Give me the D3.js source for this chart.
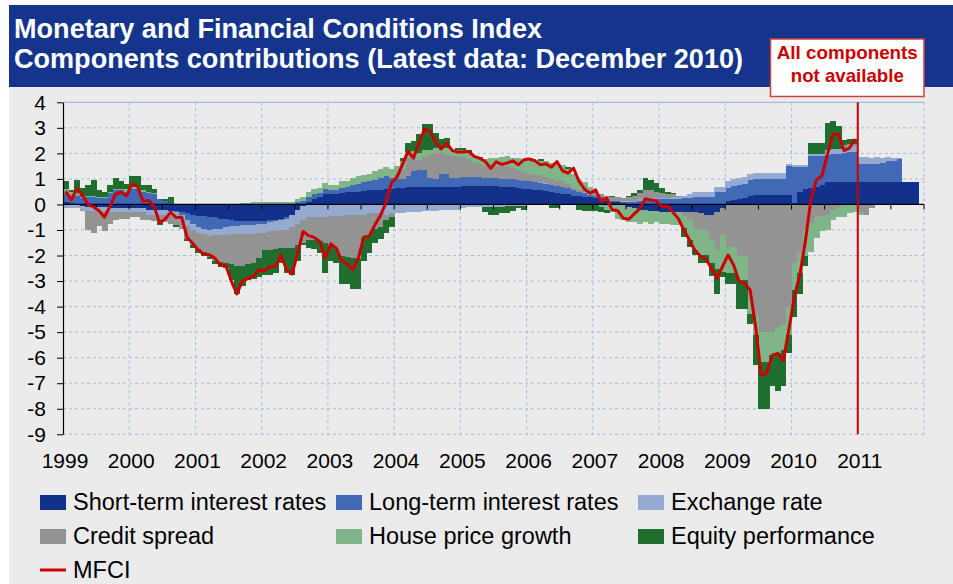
<!DOCTYPE html>
<html><head><meta charset="utf-8">
<script src="https://cdn.jsdelivr.net/npm/d3@7"></script>
<style>
body{margin:0;background:#fff}
svg{display:block}
text{font-family:"Liberation Sans",Arial,Helvetica,sans-serif}
</style>
</head><body>
<svg id="chart" width="953" height="584"></svg>
<script>
// ---------- DATA ----------
const titleLines = ["Monetary and Financial Conditions Index",
                    "Components contributions (Latest data: December 2010)"];
const noteLines = ["All components", "not available"];
const yearLabels = ["1999","2000","2001","2002","2003","2004","2005","2006","2007","2008","2009","2010","2011"];
const yTicks = [4,3,2,1,0,-1,-2,-3,-4,-5,-6,-7,-8,-9];
const seriesKeys = ["st","lt","fx","cs","hp","eq"];
const seriesNames = ["Short-term interest rates","Long-term interest rates","Exchange rate",
                     "Credit spread","House price growth","Equity performance"];
const seriesColors = ["#12318a","#4169b5","#94aad0","#939393","#80b58a","#1f6e2f"];
const lineName = "MFCI";

// monthly values, Jan 1999 .. Dec 2011
const shortTerm = [
 0.1,0.05,0.0,-0.05,-0.1,-0.1,-0.1,-0.1,-0.15,-0.15,-0.15,-0.15,
 -0.15,-0.15,-0.15,-0.2,-0.2,-0.2,-0.2,-0.25,-0.25,-0.3,-0.35,-0.4,
 -0.45,-0.45,-0.5,-0.5,-0.55,-0.55,-0.6,-0.65,-0.65,-0.65,-0.65,-0.65,
 -0.65,-0.6,-0.6,-0.55,-0.5,-0.4,-0.2,-0.05,0.1,0.2,0.3,0.4,
 0.4,0.42,0.45,0.48,0.5,0.5,0.52,0.55,0.55,0.57,0.6,0.6,
 0.65,0.65,0.7,0.7,0.7,0.7,0.7,0.7,0.7,0.7,0.7,0.7,
 0.72,0.72,0.72,0.72,0.72,0.72,0.72,0.7,0.7,0.68,0.65,0.62,
 0.6,0.57,0.55,0.52,0.48,0.45,0.42,0.4,0.35,0.32,0.3,0.28,
 0.25,0.2,0.15,0.1,0.1,0.05,-0.1,-0.15,-0.2,-0.2,-0.25,-0.25,
 -0.3,-0.3,-0.3,-0.3,-0.3,-0.3,-0.3,-0.35,-0.4,-0.4,-0.3,-0.15,
 0.15,0.18,0.2,0.25,0.35,0.38,0.38,0.38,0.38,0.38,0.38,0.37,
 0.05,0.5,0.6,0.65,0.7,0.77,0.87,0.87,0.87,0.87,0.87,0.87,
 0.87,0.87,0.87,0.87,0.87,0.87,0.87,0.87,0.87,0.87,0.87,null];
const longTerm = [
 0.3,0.3,0.35,0.25,0.3,0.3,0.25,0.25,0.45,0.55,0.55,0.5,
 0.6,0.6,0.5,0.45,0.4,0.2,0.15,0.05,-0.05,-0.1,-0.25,-0.35,
 -0.45,-0.5,-0.5,-0.45,-0.4,-0.35,-0.25,-0.2,-0.15,-0.15,-0.15,-0.1,
 -0.1,-0.1,-0.05,-0.05,-0.05,0.0,0.1,0.15,0.2,0.2,0.15,0.2,
 0.15,0.15,0.2,0.2,0.25,0.3,0.35,0.35,0.4,0.45,0.5,0.45,
 0.35,0.35,0.4,0.6,0.65,0.65,0.35,0.3,0.5,0.5,0.35,0.35,
 0.35,0.35,0.35,0.35,0.3,0.3,0.3,0.3,0.3,0.3,0.3,0.3,
 0.3,0.3,0.3,0.3,0.3,0.28,0.28,0.25,0.2,0.15,0.15,0.1,
 0.1,0.1,0.05,0.05,0.05,0.05,0.1,0.1,0.15,0.2,0.2,0.2,
 0.2,0.2,0.2,0.2,0.25,0.25,0.3,0.3,0.3,0.3,0.5,0.5,
 0.5,0.55,0.55,0.55,0.6,0.6,0.6,0.6,0.6,0.6,0.6,1.15,
 1.43,0.98,0.88,1.23,1.18,1.11,1.08,1.1,1.12,1.15,1.18,1.2,
 0.7,0.7,0.7,0.72,0.75,0.85,0.85,0.9,null,null,null,null];
const exchangeRate = [
 -0.15,-0.15,-0.15,-0.15,-0.15,-0.15,-0.15,-0.15,-0.15,-0.15,-0.15,-0.15,
 -0.15,-0.15,-0.15,-0.2,-0.2,-0.2,-0.2,-0.2,-0.2,-0.2,-0.25,-0.25,
 -0.2,-0.2,-0.25,-0.25,-0.25,-0.3,-0.3,-0.3,-0.35,-0.35,-0.35,-0.35,
 -0.35,-0.35,-0.4,-0.4,-0.45,-0.5,-0.55,-0.55,-0.5,-0.5,-0.5,-0.5,
 -0.45,-0.45,-0.45,-0.4,-0.4,-0.4,-0.4,-0.35,-0.35,-0.35,-0.4,-0.35,
 -0.35,-0.35,-0.3,-0.3,-0.3,-0.25,-0.25,-0.25,-0.2,-0.2,-0.2,-0.2,
 -0.15,-0.1,-0.1,-0.1,-0.1,-0.1,-0.1,-0.1,-0.05,-0.05,-0.05,-0.05,
 0.0,0.0,0.02,0.02,0.0,0.0,0.0,0.0,0.0,0.0,0.02,0.02,
 0.0,0.0,0.0,0.0,0.0,0.02,0.05,0.05,0.05,0.05,0.05,0.05,
 0.05,0.05,0.1,0.1,0.1,0.15,0.2,0.2,0.2,0.2,0.2,0.2,
 0.25,0.27,0.28,0.27,0.25,0.25,0.26,0.26,0.26,0.26,0.26,0.05,
 0.05,0.05,0.05,0.1,0.1,0.1,0.2,0.2,0.2,0.2,0.2,0.2,
 0.3,0.3,0.25,0.25,0.2,0.15,0.1,0.05,null,null,null,null];
const creditSpread = [
 0.1,0.05,0.05,-0.05,-0.75,-0.85,-0.6,-0.8,-0.45,-0.3,-0.25,-0.25,
 -0.2,-0.2,-0.3,-0.2,-0.25,-0.3,-0.3,-0.3,-0.3,-0.35,-0.5,-0.6,
 -0.65,-0.7,-0.8,-1.0,-1.05,-1.1,-1.2,-1.25,-1.25,-1.2,-1.15,-1.0,
 -0.7,-0.75,-0.7,-0.7,-0.7,-0.8,-0.85,-0.9,-0.9,-0.9,-0.95,-1.0,
 -1.2,-1.3,-1.55,-1.65,-1.7,-1.75,-0.9,-0.85,-0.6,-0.55,-0.2,-0.15,
 0.2,0.4,0.7,0.6,0.4,0.5,0.9,1.0,0.8,0.75,0.85,0.85,
 0.8,0.7,0.55,0.5,0.5,0.5,0.5,0.5,0.5,0.45,0.4,0.35,
 0.3,0.3,0.3,0.25,0.2,0.2,0.2,0.15,0.1,0.1,0.1,0.1,
 0.1,0.1,0.15,0.15,0.15,0.15,0.15,0.2,0.25,0.3,0.3,0.25,
 0.2,0.15,0.1,0.05,-0.17,-0.3,-0.63,-0.65,-0.6,-1.0,-1.5,-1.05,
 -1.65,-1.65,-2.0,-2.0,-3.5,-4.3,-5.0,-5.0,-5.0,-4.8,-4.7,-4.0,
 -2.3,-1.9,-1.0,-0.73,-0.5,-0.45,-0.4,-0.2,-0.1,0.1,0.1,0.1,
 -0.3,-0.4,-0.15,null,null,null,null,null,null,null,null,null];
const housePrice = [
 0.1,0.1,0.05,0.05,0.05,0.05,0.05,0.05,0.05,0.05,0.05,0.1,
 0.1,0.1,0.05,0.05,0.05,0.0,0.0,0.0,0.0,0.0,0.0,0.0,
 0.0,0.0,0.0,0.0,0.0,0.0,0.0,0.0,0.05,0.05,0.1,0.1,
 0.1,0.1,0.1,0.1,0.1,0.1,0.1,0.15,0.2,0.2,0.2,0.25,
 0.2,0.2,0.25,0.25,0.3,0.3,0.3,0.3,0.35,0.35,0.35,0.35,
 0.3,0.3,0.25,0.2,0.25,0.3,0.2,0.2,0.25,0.25,0.25,0.25,
 0.25,0.25,0.25,0.25,0.25,0.3,0.3,0.35,0.4,0.4,0.45,0.5,
 0.5,0.55,0.55,0.6,0.65,0.65,0.65,0.6,0.55,0.4,0.3,0.2,
 0.0,-0.1,-0.2,-0.3,-0.55,-0.6,-0.6,-0.55,-0.55,-0.5,-0.5,-0.45,
 -0.45,-0.45,-0.5,-0.5,-0.46,-0.8,-0.85,-0.97,-0.97,-0.9,-0.72,-1.43,
 -1.05,-1.05,-0.95,-0.95,-0.8,-0.8,-1.16,-1.16,-0.9,-1.0,-1.0,-1.1,
 -1.05,-0.8,-1.0,-1.15,-0.8,-0.6,-0.6,-0.4,-0.4,-0.5,-0.35,-0.3,
 -0.1,null,null,null,null,null,null,null,null,null,null,null];
const equity = [
 0.3,0.05,0.5,0.35,0.4,0.6,0.25,0.2,0.25,0.45,0.3,0.2,
 0.4,0.4,0.2,0.25,0.15,-0.1,0.05,0.25,-0.1,0.0,-0.1,-0.1,
 -0.15,-0.15,-0.1,-0.15,-0.2,-0.2,-0.6,-1.1,-0.8,-0.6,-0.6,-0.75,
 -0.95,-0.95,-0.95,-0.6,-1.0,-1.05,-0.6,-0.1,-0.3,-0.35,-0.45,-1.2,
 -0.55,-0.55,-1.1,-1.05,-1.2,-1.15,-0.9,-0.7,-0.55,-0.45,-0.5,-0.4,
 0.0,0.1,0.35,0.4,0.75,1.0,1.0,0.6,0.3,0.4,0.0,0.05,
 0.1,0.1,0.0,0.05,-0.2,-0.3,-0.3,-0.25,-0.3,-0.2,-0.1,-0.15,
 0.0,0.0,0.05,0.0,-0.15,-0.15,0.0,0.05,0.0,-0.2,-0.25,-0.25,
 -0.25,-0.2,-0.15,0.05,0.0,0.0,0.05,0.1,0.1,0.5,0.4,0.35,
 0.2,0.1,0.05,0.0,-0.33,-0.26,-0.2,-0.33,-0.33,-0.52,-1.0,-0.2,
 -0.4,-0.4,-1.15,-1.15,-0.4,-1.2,-1.84,-1.84,-1.2,-1.5,-1.4,-0.7,
 -1.05,-0.8,-0.4,0.42,0.42,0.42,1.04,1.1,0.9,0.2,0.2,0.2,
 null,null,null,null,null,null,null,null,null,null,null,null];
const mfci = [
 0.51,0.18,0.61,0.38,0.0,-0.1,-0.24,-0.5,-0.08,0.4,0.48,0.34,
 0.8,0.71,0.12,0.16,-0.08,-0.71,-0.58,-0.3,-0.51,-0.5,-1.3,-1.52,
 -1.78,-1.95,-1.97,-2.1,-2.37,-2.39,-3.0,-3.5,-3.0,-2.9,-2.82,-2.56,
 -2.6,-2.43,-2.43,-1.97,-2.56,-2.73,-1.91,-1.06,-1.22,-1.29,-1.45,-2.1,
 -1.54,-1.71,-2.2,-2.33,-2.56,-2.1,-1.28,-1.23,-0.8,-0.44,0.05,0.84,
 1.07,1.56,2.08,1.82,2.4,2.95,2.86,2.43,2.17,2.4,2.12,2.05,
 2.05,2.08,1.88,1.81,1.68,1.42,1.67,1.57,1.63,1.71,1.55,1.75,
 1.78,1.71,1.55,1.59,1.46,1.68,1.32,1.23,1.42,0.9,0.6,0.44,
 0.57,0.12,0.25,-0.21,-0.24,-0.54,-0.58,-0.37,-0.17,0.22,0.18,0.14,
 -0.08,-0.05,-0.3,-0.56,-1.0,-1.39,-1.81,-2.02,-2.15,-2.5,-2.89,-2.43,
 -1.98,-2.37,-3.02,-3.09,-3.35,-4.79,-6.68,-6.61,-5.9,-5.83,-6.12,-4.92,
 -3.61,-2.76,-1.45,0.18,0.96,1.12,1.95,2.75,2.73,2.11,2.21,2.56,
 null,null,null,null,null,null,null,null,null,null,null,null];
const latestDataBoundary = 2011;   // components not available after this

// ---------- BUILD ----------
const months = d3.timeMonth.range(new Date(1999,0,1), new Date(2012,0,1));
const rows = months.map((m,i)=>({
  i, date:m,
  st: shortTerm[i], lt: longTerm[i], fx: exchangeRate[i],
  cs: creditSpread[i], hp: housePrice[i], eq: equity[i], mfci: mfci[i]
}));

const W = 953, H = 584;
const plot = {left:63, right:924, top:102.3, bottom:434.3};
const svg = d3.select("#chart");

const x = d3.scaleBand().domain(rows.map(d=>d.i)).range([plot.left, plot.right]).padding(0);
const xYear = d3.scaleLinear().domain([1999, 2012]).range([plot.left, plot.right]);
const y = d3.scaleLinear().domain([-9, 4]).range([plot.bottom, plot.top]);

// backgrounds
svg.append("rect").attr("x",0).attr("y",0).attr("width",W).attr("height",H).attr("fill","#ffffff");
svg.append("rect").attr("x",9).attr("y",87).attr("width",W-9).attr("height",H-87).attr("fill","#ebebeb");
svg.append("rect").attr("x",9).attr("y",5).attr("width",W-9).attr("height",82).attr("fill","#14358b");

// title
const tW = [528, 729];
titleLines.forEach((t,k)=>{
  svg.append("text").attr("x",14).attr("y", k===0 ? 38 : 68)
    .attr("fill","#ffffff").attr("font-size",27).attr("font-weight","bold")
    .attr("textLength", tW[k]).attr("lengthAdjust","spacingAndGlyphs").text(t);
});

// gridlines
const gridColor = "#a6bad9";
const g = svg.append("g");
yTicks.filter(v=>v!==0 && v!==4).forEach(v=>{
  g.append("line").attr("x1",plot.left).attr("x2",plot.right)
   .attr("y1",y(v)).attr("y2",y(v))
   .attr("stroke",gridColor).attr("stroke-width",1).attr("stroke-dasharray","3,3");
});
d3.range(2000, 2013).forEach(yr=>{
  g.append("line").attr("x1",xYear(yr)).attr("x2",xYear(yr))
   .attr("y1",plot.top).attr("y2",plot.bottom)
   .attr("stroke",gridColor).attr("stroke-width",1).attr("stroke-dasharray","3,3");
});
g.append("line").attr("x1",plot.left).attr("x2",plot.right)
 .attr("y1",plot.top).attr("y2",plot.top).attr("stroke",gridColor).attr("stroke-width",1.2);

// stacked bars
const stack = d3.stack().keys(seriesKeys)
  .value((d,k)=> d[k]==null ? 0 : d[k])
  .offset(d3.stackOffsetDiverging);
const layers = stack(rows);
const bars = svg.append("g").attr("shape-rendering","crispEdges");
layers.forEach((layer,li)=>{
  bars.append("g").attr("fill", seriesColors[li])
    .selectAll("rect").data(layer.filter(d=>d[1]!==d[0])).join("rect")
    .attr("x", d=>x(d.data.i))
    .attr("width", x.bandwidth()+0.4)
    .attr("y", d=>y(Math.max(d[0],d[1])))
    .attr("height", d=>Math.abs(y(d[0])-y(d[1])));
});

// zero axis with half-year ticks
const ax = svg.append("g");
ax.append("line").attr("x1",plot.left).attr("x2",plot.right)
  .attr("y1",y(0)).attr("y2",y(0)).attr("stroke","#000").attr("stroke-width",1.2);
d3.range(1999.5, 2012.01, 0.5).forEach(v=>{
  ax.append("line").attr("x1",xYear(v)).attr("x2",xYear(v))
    .attr("y1",y(0)).attr("y2",y(0)+5).attr("stroke","#000").attr("stroke-width",1);
});

// y axis
const yAxis = d3.axisLeft(y).tickValues(yTicks).tickSize(6).tickSizeOuter(0)
  .tickPadding(11).tickFormat(d=>String(d));
const yg = svg.append("g").attr("transform",`translate(${plot.left},0)`).call(yAxis);
yg.select(".domain").attr("stroke","#000").attr("stroke-width",1.2);
yg.selectAll(".tick line").attr("stroke","#000");
yg.selectAll("text").attr("font-size",21).attr("fill","#000")
  .attr("font-family",'"Liberation Sans",Arial,sans-serif');

// x labels
yearLabels.forEach(lbl=>{
  svg.append("text").attr("x", xYear(+lbl)+2).attr("y",468)
    .attr("text-anchor","middle").attr("font-size",21).attr("fill","#000").text(lbl);
});

// MFCI line
const line = d3.line()
  .defined(d=>d.mfci!=null)
  .x(d=>x(d.i)+x.bandwidth()/2)
  .y(d=>y(d.mfci));
svg.append("path").datum(rows).attr("d",line)
  .attr("fill","none").attr("stroke","#cc0000").attr("stroke-width",3)
  .attr("stroke-linejoin","round");

// latest-data vertical line
svg.append("line").attr("x1",xYear(latestDataBoundary)).attr("x2",xYear(latestDataBoundary))
  .attr("y1",plot.top).attr("y2",plot.bottom)
  .attr("stroke","#cc0000").attr("stroke-width",2);

// annotation box
svg.append("rect").attr("x",770.5).attr("y",39).attr("width",153.5).attr("height",57.5)
  .attr("fill","#ffffff").attr("stroke","#d04040").attr("stroke-width",1.5);
const nW = [141, 113];
noteLines.forEach((t,k)=>{
  svg.append("text").attr("x",847.3).attr("y", k===0 ? 59 : 82)
    .attr("text-anchor","middle").attr("fill","#cc0000").attr("font-size",19)
    .attr("font-weight","bold").attr("textLength",nW[k]).attr("lengthAdjust","spacingAndGlyphs")
    .text(t);
});

// legend
const legPos = [[40,495],[336,495],[638,495],[40,529],[336,529],[638,529]];
seriesNames.forEach((n,k)=>{
  const [lx,ly] = legPos[k];
  svg.append("rect").attr("x",lx).attr("y",ly).attr("width",26).attr("height",15)
    .attr("fill",seriesColors[k]);
  svg.append("text").attr("x",lx+33).attr("y",ly+15).attr("font-size",23.5)
    .attr("fill","#000").text(n);
});
svg.append("line").attr("x1",40).attr("x2",66).attr("y1",570).attr("y2",570)
  .attr("stroke","#cc0000").attr("stroke-width",3);
svg.append("text").attr("x",73).attr("y",578).attr("font-size",23.5).attr("fill","#000").text(lineName);
</script>
</body></html>
